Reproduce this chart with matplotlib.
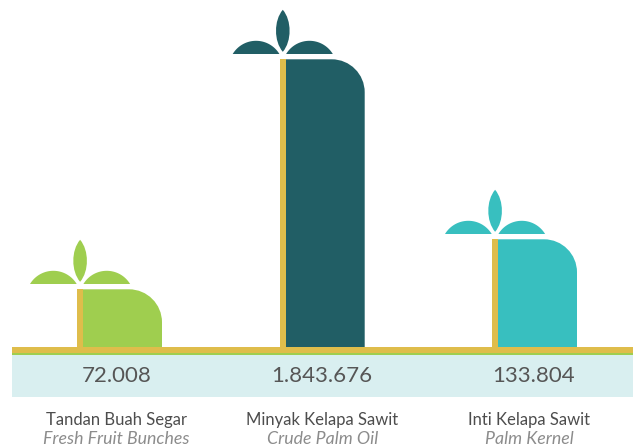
import numpy as np
import matplotlib
matplotlib.use("Agg")
import matplotlib.pyplot as plt
from matplotlib.patches import PathPatch, Rectangle
from matplotlib.path import Path

plt.rcParams['font.family'] = ['Lato', 'DejaVu Sans']

nama = ["Tandan Buah Segar", "Minyak Kelapa Sawit", "Inti Kelapa Sawit"]
nama_en = ["Fresh Fruit Bunches", "Crude Palm Oil", "Palm Kernel"]
nilai = ["72.008", "1.843.676", "133.804"]
# tinggi batang (tidak proporsional dengan nilai)
tinggi = [58, 288, 108]
warna = ["#9fce4f", "#215e65", "#38bfbf"]
kuning = "#dfbd4b"

stem_x = [77.4, 280.1, 492.4]
nilai_x = [116.5, 322, 534]
teks_x = [116.5, 322.5, 529]
BASE = 347.3


def batang(x0, x1, top, r=33):
    k = 0.5523 * r
    verts = [(x0, BASE), (x0, top), (x1 - r, top),
             (x1 - r + k, top), (x1, top + r - k), (x1, top + r),
             (x1, BASE), (x0, BASE)]
    codes = [Path.MOVETO, Path.LINETO, Path.LINETO,
             Path.CURVE4, Path.CURVE4, Path.CURVE4,
             Path.LINETO, Path.CLOSEPOLY]
    return Path(verts, codes)


def daun_samping(x0, x1, y, h=13.2):
    c = x1 - x0
    R = (c * c / 4 + h * h) / (2 * h)
    a = np.arcsin(c / 2 / R)
    t = np.linspace(-a, a, 40)
    xs = (x0 + x1) / 2 + R * np.sin(t)
    ys = y + (R - h) - R * np.cos(t)
    return Path(np.column_stack([xs, ys]))


def daun_atas(cx, y0, y1, w=6.8):
    L = y1 - y0
    k = 1.333 * w
    verts = [(cx, y0),
             (cx + k, y0 + 0.25 * L), (cx + k, y0 + 0.75 * L), (cx, y1),
             (cx - k, y0 + 0.75 * L), (cx - k, y0 + 0.25 * L), (cx, y0)]
    codes = [Path.MOVETO] + [Path.CURVE4] * 6
    return Path(verts, codes)


fig = plt.figure(figsize=(6.38, 4.47), dpi=100)
ax = fig.add_axes([0, 0, 1, 1])
ax.set_xlim(0, 638)
ax.set_ylim(447, 0)
ax.axis("off")

# pita bawah
ax.add_patch(Rectangle((12, 355), 621, 41.7, fc="#d9eff0", ec="none"))
ax.add_patch(Rectangle((12, 352.6), 621, 2.6, fc="#9fce4f", ec="none"))

for i in range(3):
    top = BASE - tinggi[i]
    sx = stem_x[i]
    ax.add_patch(PathPatch(batang(sx + 5.4, sx + 84.6, top), fc=warna[i], ec="none", zorder=2))
    # daun
    ay = top - 5.3
    ax.add_patch(PathPatch(daun_samping(sx - 47.4, sx - 0.7, ay), fc=warna[i], ec="none", zorder=2))
    ax.add_patch(PathPatch(daun_samping(sx + 6, sx + 52.7, ay), fc=warna[i], ec="none", zorder=2))
    ax.add_patch(PathPatch(daun_atas(sx + 2.7, top - 49.5, top - 7.5), fc=warna[i], ec="none", zorder=2))
    ax.add_patch(Rectangle((sx, top), 5.5, tinggi[i] + 6, fc=kuning, ec="none", zorder=4))

    ax.text(nilai_x[i], 376.5, nilai[i], ha="center", va="center", fontsize=16,
            color="#565656", zorder=5)
    ax.text(teks_x[i], 420.5, nama[i], ha="center", va="center", fontsize=12,
            color="#4d4d4d", zorder=5)
    ax.text(teks_x[i], 439.5, nama_en[i], ha="center", va="center", fontsize=12.8,
            color="#8c8c8c", style="italic", zorder=5)

ax.add_patch(Rectangle((12, BASE), 621, 5.4, fc=kuning, ec="none", zorder=3))

fig.savefig("out.png", dpi=100)
